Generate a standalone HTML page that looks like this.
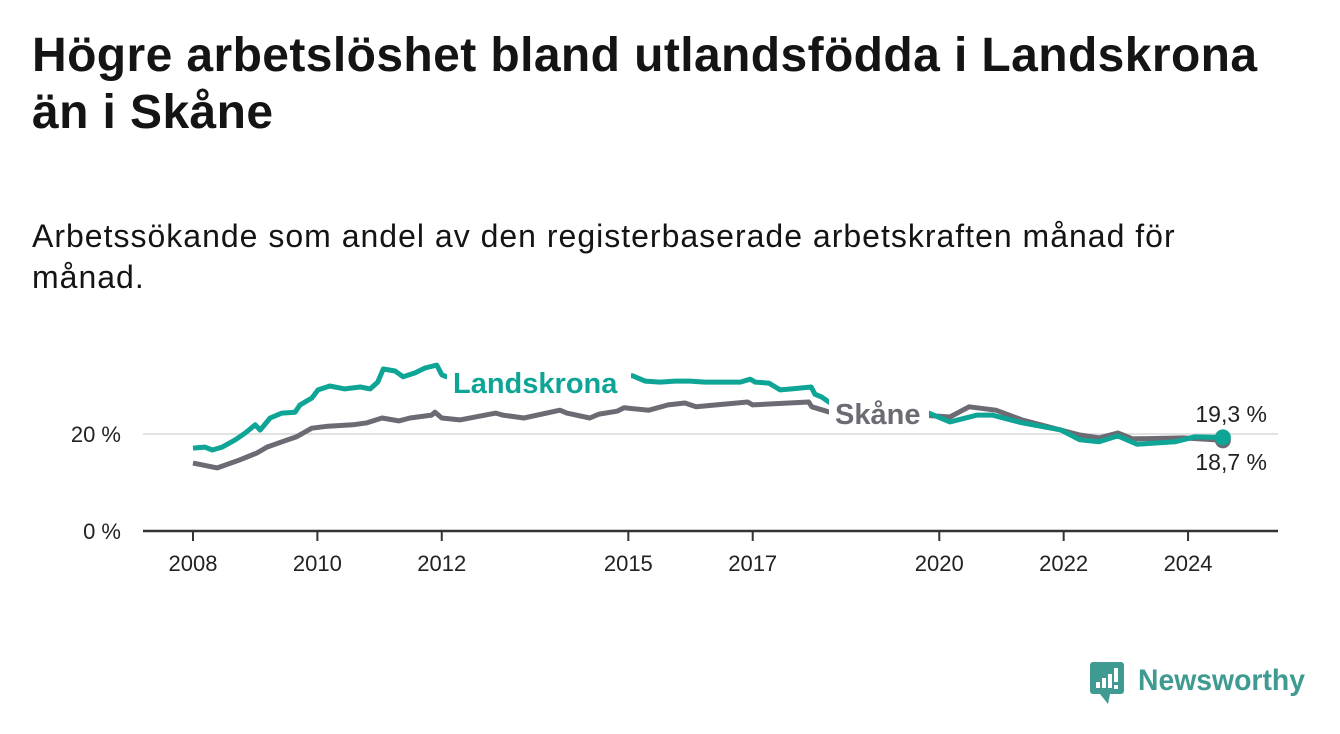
<!DOCTYPE html>
<html><head><meta charset="utf-8"><style>
body{margin:0;background:#fff;width:1340px;height:734px;overflow:hidden;font-family:"Liberation Sans","DejaVu Sans",sans-serif;color:#141414}
#title{position:absolute;left:32px;top:27px;margin:0;font-size:48px;font-weight:bold;line-height:57px;letter-spacing:0.4px}
#sub{position:absolute;left:32px;top:216px;margin:0;font-size:32px;line-height:41px;font-weight:normal;letter-spacing:1px}
svg{position:absolute;left:0;top:0}
</style></head><body>
<h1 id="title">Högre arbetslöshet bland utlandsfödda i Landskrona<br>än i Skåne</h1>
<p id="sub">Arbetssökande som andel av den registerbaserade arbetskraften månad för<br>månad.</p>
<svg id="chart" width="1340" height="734"></svg>
<script>
const lYears=[2008,2008.19,2008.31,2008.47,2008.68,2008.84,2009,2009.08,2009.24,2009.43,2009.64,2009.72,2009.91,2010.01,2010.2,2010.44,2010.69,2010.85,2010.97,2011.06,2011.25,2011.38,2011.57,2011.73,2011.92,2012,2012.08,2012.5,2013,2013.5,2014,2014.5,2015.07,2015.27,2015.51,2015.75,2015.99,2016.23,2016.47,2016.8,2016.96,2017.04,2017.26,2017.44,2017.63,2017.94,2018,2018.11,2018.27,2018.8,2019.4,2019.83,2020.17,2020.61,2020.85,2021.33,2021.96,2022.26,2022.57,2022.87,2023.18,2023.79,2024.1,2024.56];
const lVals=[17.1,17.3,16.7,17.3,18.8,20.2,21.9,20.8,23.3,24.3,24.5,26.0,27.4,29.1,29.9,29.3,29.7,29.3,30.7,33.4,33.0,31.8,32.6,33.6,34.2,32.2,31.8,32,31.5,31.5,31.5,32,32.0,30.9,30.7,30.9,30.9,30.7,30.7,30.7,31.3,30.7,30.5,29.1,29.3,29.7,28.2,27.6,26.2,25,24.5,24.3,22.5,23.9,23.9,22.3,20.8,18.8,18.4,19.6,17.9,18.4,19.4,19.3];
const sYears=[2008,2008.39,2008.74,2009.03,2009.19,2009.43,2009.66,2009.91,2010.17,2010.57,2010.8,2011.04,2011.31,2011.49,2011.84,2011.89,2012,2012.29,2012.87,2012.98,2013.32,2013.9,2014.01,2014.38,2014.53,2014.82,2014.93,2015.33,2015.64,2015.91,2016.09,2016.92,2017,2017.9,2017.95,2018.24,2019,2019.85,2020.17,2020.48,2020.91,2021.33,2022.26,2022.57,2022.87,2023.11,2023.92,2024.56];
const sVals=[14.0,13.0,14.6,16.1,17.3,18.4,19.4,21.2,21.6,21.9,22.3,23.3,22.7,23.3,23.9,24.5,23.3,22.9,24.3,23.9,23.3,24.9,24.3,23.3,24.1,24.7,25.4,24.9,26.0,26.4,25.6,26.6,26.0,26.6,25.6,24.5,24.2,23.8,23.5,25.6,24.9,22.9,19.8,19.2,20.2,19.0,19.2,18.7];
const xTicks=[2008,2010,2012,2015,2017,2020,2022,2024];
const yTicks=[0,20];
const endLabels=["19,3 %","18,7 %"];

const NS="http://www.w3.org/2000/svg";
const svg=document.getElementById('chart');
const X=y=>193+(y-2008)*62.19;
const Y=v=>531-v*4.85;
function mk(t,a,p){const e=document.createElementNS(NS,t);for(const k in a)e.setAttribute(k,a[k]);(p||svg).appendChild(e);return e;}
yTicks.forEach(t=>{
  const g=mk('line',{x1:143,x2:1278,y1:Y(t),y2:Y(t),stroke:t===0?'#333':'#d9d9d9','stroke-width':t===0?2.5:1.5});
  
  
  const tx=mk('text',{x:121,y:Y(t)+8,'text-anchor':'end','font-size':22,fill:'#222'});
  tx.textContent=t+' %';
  
  
});
xTicks.forEach(t=>{
  const l=mk('line',{x1:X(t),x2:X(t),y1:531,y2:541,stroke:'#333','stroke-width':2});
  
  
  const tx=mk('text',{x:X(t),y:571,'text-anchor':'middle','font-size':22,fill:'#222'});
  tx.textContent=t;
  
  
});
function line(ys,vs,col,name){
  const d=ys.map((y,i)=>(i?'L':'M')+X(y).toFixed(1)+','+Y(vs[i]).toFixed(1)).join('');
  const p=mk('path',{d:d,fill:'none',stroke:col,'stroke-width':5,'stroke-linejoin':'round'});
  
  
  const n=ys.length-1;
  const c=mk('circle',{cx:X(ys[n]),cy:Y(vs[n]),r:8,fill:col});
  
  
}
line(sYears,sVals,'#6d6a73','skane-line');
line(lYears,lVals,'#0ea596','landskrona-line');
const b1=mk('rect',{x:447,y:362,width:184,height:40,fill:'#fff'});


const b2=mk('rect',{x:829,y:394,width:100,height:38,fill:'#fff'});


const t1=mk('text',{x:453,y:393,'font-size':29,'font-weight':'bold',fill:'#0ea596'});
t1.textContent='Landskrona';


const t2=mk('text',{x:835,y:424,'font-size':29,'font-weight':'bold',fill:'#6d6a73'});
t2.textContent='Skåne';


const e1=mk('text',{x:1267,y:422,'text-anchor':'end','font-size':23,fill:'#222'});
e1.textContent=endLabels[0];


const e2=mk('text',{x:1267,y:470,'text-anchor':'end','font-size':23,fill:'#222'});
e2.textContent=endLabels[1];


const lg=mk('g',{});


mk('rect',{x:1090,y:662,width:34,height:32,rx:3,fill:'#3f9b91'},lg);
mk('path',{d:'M1100,694 L1108,704 L1110,694 Z',fill:'#3f9b91'},lg);
[[1096,682,4],[1102,678,4],[1108,674,4]].forEach(b=>mk('rect',{x:b[0],y:b[1],width:b[2],height:688-b[1],fill:'#fff'},lg));
mk('rect',{x:1114,y:668,width:4,height:14,fill:'#fff'},lg);
mk('rect',{x:1114,y:685,width:4,height:4,fill:'#fff'},lg);
const lt=mk('text',{x:1138,y:690,'font-size':30,'font-weight':'bold',fill:'#3f9b91','textLength':167,'lengthAdjust':'spacingAndGlyphs'},lg);
lt.textContent='Newsworthy';
</script>
</body></html>
